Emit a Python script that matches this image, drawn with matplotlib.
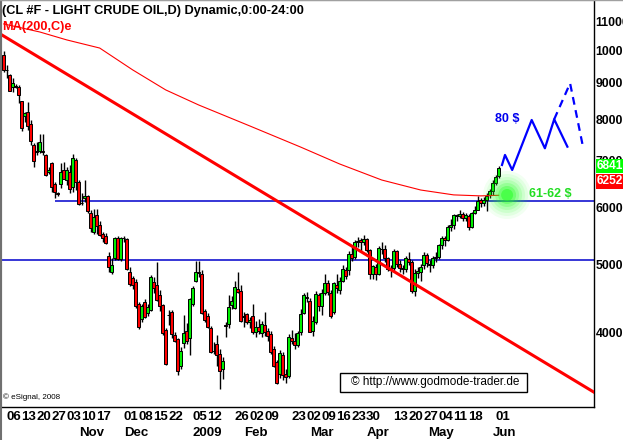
import numpy as np
import pandas as pd
import matplotlib
matplotlib.use("Agg")
import matplotlib.pyplot as plt
from matplotlib.patches import Rectangle
from matplotlib.lines import Line2D
from matplotlib.ticker import NullLocator

plt.rcParams['font.family'] = ['Liberation Sans', 'DejaVu Sans']

# trading days shown on the chart
holidays = ["2008-11-27", "2008-12-25", "2009-01-01", "2009-01-19",
            "2009-02-16", "2009-04-10", "2009-05-25"]
dates = pd.bdate_range("2008-10-02", "2009-06-01").drop(pd.to_datetime(holidays))

opens = [9850, 9400, 9240, 8890, 8920, 8890, 8490, 8090, 8190, 7880,
         7360, 7210, 7210, 7220, 7120, 6740, 6940, 6480, 6290, 6480,
         6790, 6570, 6740, 6420, 7010, 6530, 6100, 6200, 6240, 5900,
         5550, 5870, 5680, 5510, 5480, 5130, 4870, 5100, 5450, 5080,
         5440, 5430, 4880, 4780, 4720, 4390, 4190, 4420, 4270, 4310,
         4720, 4680, 4520, 4380, 4040, 4240, 4280, 3970, 3920, 3590,
         3870, 4020, 3930, 4400, 4730, 4880, 4850, 4290, 4220, 4070,
         3770, 3860, 3740, 3560, 4100, 4120, 4380, 4340, 4620, 4580,
         4230, 4250, 4150, 4230, 4010, 4080, 4000, 4110, 4020, 3990,
         3800, 3640, 3500, 3720, 3500, 3480, 3930, 3900, 3850, 4010,
         4270, 4500, 4440, 4030, 4150, 4520, 4360, 4550, 4700, 4560,
         4280, 4680, 4600, 4740, 4900, 4900, 5170, 5110, 5380, 5400,
         5380, 5430, 5240, 4840, 4960, 4840, 5260, 5250, 5100, 4910,
         4940, 5220, 5000, 4940, 4930, 5090, 5030, 4590, 4860, 4870,
         4980, 5150, 5000, 4990, 5100, 5110, 5320, 5440, 5410, 5640,
         5670, 5860, 5850, 5890, 5800, 5850, 5640, 5900, 5970, 6150,
         6100, 6160, 6250, 6340, 6510, 6650]
highs = [9990, 9540, 9270, 9150, 8960, 8940, 8500, 8190, 8460, 7980,
         7410, 7430, 7620, 7620, 7150, 6850, 6970, 6530, 6320, 6940,
         6970, 6850, 6900, 7150, 7060, 6570, 6300, 6570, 6260, 5960,
         5980, 5980, 5750, 5550, 5530, 5200, 5100, 5460, 5480, 5460,
         5480, 5440, 4960, 4810, 4760, 4420, 4400, 4460, 4400, 4820,
         4790, 5030, 4600, 4400, 4060, 4310, 4310, 4010, 3930, 3820,
         4240, 4130, 4480, 4660, 5050, 5050, 4900, 4320, 4270, 4090,
         3880, 3980, 3800, 3700, 4150, 4520, 4510, 4740, 4870, 4680,
         4280, 4270, 4210, 4400, 4160, 4180, 4160, 4280, 4060, 4020,
         3840, 3670, 3780, 3760, 3560, 3990, 4040, 4000, 4020, 4330,
         4560, 4570, 4480, 4230, 4580, 4560, 4610, 4840, 4750, 4600,
         4720, 4850, 4790, 4980, 4960, 5220, 5300, 5400, 5460, 5450,
         5500, 5450, 5250, 4990, 5000, 5300, 5370, 5320, 5120, 4990,
         5260, 5230, 5060, 4990, 5140, 5200, 5060, 4920, 4960, 5000,
         5200, 5180, 5070, 5130, 5200, 5340, 5480, 5480, 5670, 5790,
         5890, 5880, 5960, 5920, 5900, 5880, 5920, 6030, 6230, 6200,
         6220, 6290, 6380, 6560, 6680, 6880]
lows = [9340, 9150, 8770, 8740, 8850, 8430, 7700, 7930, 7730, 7360,
        6850, 7120, 7170, 7120, 6660, 6700, 6320, 6200, 6240, 6400,
        6590, 6470, 6300, 6320, 6360, 6060, 6050, 6120, 5900, 5550,
        5510, 5510, 5470, 5380, 5330, 4870, 4850, 5070, 5070, 5050,
        5380, 4900, 4660, 4620, 4340, 4050, 4150, 4200, 4230, 4290,
        4560, 4440, 4300, 3980, 3600, 4100, 3930, 3880, 3490, 3560,
        3810, 3860, 3720, 4370, 4720, 4800, 4250, 4150, 4060, 3750,
        3740, 3590, 3340, 3440, 3950, 4060, 4330, 4320, 4560, 4140,
        4080, 4120, 4060, 3990, 3950, 3990, 3950, 3960, 3900, 3740,
        3580, 3390, 3460, 3430, 3400, 3460, 3860, 3800, 3820, 3980,
        4250, 4420, 4010, 3960, 4120, 4300, 4240, 4520, 4530, 4200,
        4250, 4560, 4540, 4720, 4760, 4830, 5050, 5090, 5280, 5220,
        5320, 5200, 4760, 4760, 4750, 4830, 5170, 5030, 4890, 4800,
        4890, 4950, 4870, 4850, 4880, 4980, 4560, 4510, 4780, 4740,
        4920, 4950, 4880, 4940, 5030, 5080, 5250, 5310, 5390, 5560,
        5600, 5760, 5810, 5750, 5760, 5580, 5620, 5880, 5960, 6020,
        6040, 5940, 6200, 6260, 6460, 6620]
closes = [9397, 9388, 8781, 9006, 8895, 8659, 7770, 8160, 7830, 7454,
          6985, 7200, 7425, 7200, 6675, 6784, 6415, 6322, 6273, 6750,
          6596, 6781, 6391, 7053, 6530, 6077, 6104, 6241, 5933, 5616,
          5824, 5660, 5495, 5439, 5362, 4962, 4993, 5450, 5077, 5444,
          5443, 4928, 4696, 4679, 4367, 4081, 4371, 4207, 4352, 4798,
          4628, 4451, 4360, 4006, 3622, 4236, 3991, 3898, 3535, 3771,
          4002, 3903, 4460, 4634, 4881, 4858, 4263, 4170, 4083, 3759,
          3778, 3728, 3540, 3651, 4090, 4355, 4430, 4647, 4573, 4158,
          4216, 4144, 4168, 4008, 4078, 4032, 4117, 4017, 3956, 3755,
          3594, 3398, 3751, 3493, 3462, 3948, 3894, 3844, 3996, 4250,
          4522, 4476, 4015, 4165, 4538, 4361, 4552, 4707, 4571, 4233,
          4703, 4625, 4735, 4916, 4814, 5161, 5106, 5380, 5398, 5377,
          5434, 5238, 4841, 4966, 4839, 5264, 5251, 5105, 4915, 4938,
          5224, 5005, 4941, 4925, 5098, 5033, 4588, 4855, 4886, 4962,
          5155, 5014, 4992, 5097, 5112, 5320, 5447, 5409, 5634, 5671,
          5863, 5850, 5885, 5802, 5857, 5634, 5903, 5965, 6145, 6105,
          6167, 6245, 6345, 6508, 6631, 6841]

# MA(200) (bar index, value)
ma_idx = [0, 12, 21, 32, 43, 54, 65, 82, 99, 112, 126, 139, 150, 159, 165]
ma_val = [10900, 10620, 10350, 10080, 9390, 8800, 8380, 7830, 7310, 6920,
          6570, 6360, 6260, 6240, 6252]

# trend line and horizontal levels
trend_x = [-1.3, 196.8]
trend_y = [10560, 3300]
level_hi = 6138
level_hi_start = 17
level_lo = 5069

# projection drawn on the chart (bar index, price)
proj_x = [166.1, 167.1, 169.5, 176.0, 180.4, 183.5, 187.9]
proj_y = [6898, 7126, 6787, 7982, 7282, 8000, 7320]
proj2_x = [183.5, 188.8, 193.2]
proj2_y = [8000, 8990, 7282]

ytick_vals = [4000, 5000, 6000, 7000, 8000, 9000, 10000, 11000]
day_labels = ["2008-10-06", "2008-10-13", "2008-10-20", "2008-10-27", "2008-11-03",
              "2008-11-10", "2008-11-17", "2008-12-01", "2008-12-08", "2008-12-15",
              "2008-12-22", "2009-01-05", "2009-01-12", "2009-01-26", "2009-02-02",
              "2009-02-09", "2009-02-23", "2009-03-02", "2009-03-09", "2009-03-16",
              "2009-03-23", "2009-03-30", "2009-04-13", "2009-04-20", "2009-04-27",
              "2009-05-04", "2009-05-11", "2009-05-18", "2009-06-01"]
month_labels = ["Nov", "Dec", "2009", "Feb", "Mar", "Apr", "May", "Jun"]
month_pos = [29.4, 44.1, 67.8, 84.1, 106.1, 124.8, 145.8, 167.1]

W, H = 623, 440
fig = plt.figure(figsize=(W / 100, H / 100), dpi=100)
ax = fig.add_axes([1 / W, 1 - 407 / H, 593 / W, 407 / H])
ax.set_yscale('log')
ax.set_ylim(3146, 11780)
ax.set_xlim(-0.9, 196.77)

x = np.arange(len(closes))
o = np.array(opens)
c = np.array(closes)
hi = np.array(highs)
lo = np.array(lows)

# levels
ax.hlines(level_hi, level_hi_start, 200, color='#0000cc', lw=1.1, zorder=1)
ax.hlines(level_lo, -2, 200, color='#0000cc', lw=1.1, zorder=1)

# candles
colors = []
for i in range(len(c)):
    if abs(c[i] - o[i]) / o[i] < 0.002:
        colors.append('black')
    elif c[i] > o[i]:
        colors.append('#00ee00')
    else:
        colors.append('#ff0000')
ax.vlines(x, lo, hi, color='black', lw=1.0, zorder=2)
bot = np.minimum(o, c)
top = np.maximum(o, c)
ax.bar(x, top - bot, bottom=bot, width=0.8, color=colors, edgecolor='black',
       linewidth=0.7, zorder=3)

# MA and trend line
ax.plot(ma_idx, ma_val, color='#ff0000', lw=0.8, zorder=4)
ax.plot(trend_x, trend_y, color='#ff0000', lw=2.2, zorder=4)

# green glow at the support
for r, a in [(24, 0.06), (21, 0.08), (18, 0.1), (15, 0.14), (12, 0.2), (9, 0.3), (6, 0.5)]:
    ax.scatter([167.8], [6258], s=(1.44 * r) ** 2, color='#22ff22', alpha=a,
               edgecolors='none', zorder=5)

# projection
ax.plot(proj_x, proj_y, color='#0000ff', lw=1.6, zorder=6)
ax.plot(proj2_x, proj2_y, color='#0000ff', lw=1.6, zorder=6, dashes=(3.5, 2.5))

ax.text(167.8, 8008, "80 $", color='#0000ee', fontsize=9, fontweight='bold',
        ha='center', va='center', zorder=7)
ax.text(182.1, 6280, "61-62 $", color='#22dd22', fontsize=9, fontweight='bold',
        ha='center', va='center', zorder=7)

# right axis
ax.yaxis.tick_right()
ax.set_yticks(ytick_vals)
ax.set_yticklabels([str(v) for v in ytick_vals])
ax.yaxis.set_minor_locator(NullLocator())
ax.tick_params(axis='y', length=0, pad=1.2, labelsize=8.8)
for t in ax.get_yticklabels():
    t.set_fontweight('bold')
ax.set_xticks([])

for s in ['right', 'bottom']:
    ax.spines[s].set_color('black')
    ax.spines[s].set_linewidth(1)
ax.spines['left'].set_color('#707070')
ax.spines['left'].set_linewidth(1.5)
ax.spines['top'].set_color('#a0a0a0')

# date labels
pos = [dates.get_loc(pd.Timestamp(d)) + 1.3 for d in day_labels]
for p, d in zip(pos, day_labels):
    ax.text(p, -0.025, d[-2:], transform=ax.get_xaxis_transform(), ha='center',
            va='center', fontsize=9.5, fontweight='bold')
for p, m in zip(month_pos, month_labels):
    ax.text(p, -0.064, m, transform=ax.get_xaxis_transform(), ha='center',
            va='center', fontsize=9.5, fontweight='bold')

# header texts
fig.text(2 / W, 1 - 11 / H, "(CL #F - LIGHT CRUDE OIL,D) Dynamic,0:00-24:00",
         ha='left', va='center', fontsize=9.2, fontweight='bold')
fig.text(2 / W, 1 - 27 / H, "MA(200,C)e", color='#ff0000',
         ha='left', va='center', fontsize=9.2, fontweight='bold')
fig.text(3 / W, 1 - 397 / H, "© eSignal, 2008", ha='left', va='center', fontsize=5.8)

# godmode box
fig.patches.append(Rectangle((340 / W, 1 - 392 / H), 187 / W, 19 / H, transform=fig.transFigure,
                             facecolor='white', edgecolor='black', lw=1, zorder=8))
fig.text(435 / W, 1 - 382.5 / H, "© http://www.godmode-trader.de", ha='center', va='center',
         fontsize=8.5, zorder=9)

# price tags
fig.patches.append(Rectangle((596 / W, 1 - 173 / H), 27 / W, 14 / H, transform=fig.transFigure,
                             facecolor='#00ff00', edgecolor='none', zorder=8))
fig.text(596.5 / W, 1 - 166 / H, str(closes[-1]), color='white', ha='left', va='center',
         fontsize=8.6, fontweight='bold', zorder=9)
fig.patches.append(Rectangle((596 / W, 1 - 189 / H), 27 / W, 15 / H, transform=fig.transFigure,
                             facecolor='#ff0000', edgecolor='none', zorder=8))
fig.text(596.5 / W, 1 - 181.5 / H, str(ma_val[-1]), color='white', ha='left', va='center',
         fontsize=8.6, fontweight='bold', zorder=9)

# outer frame left/top
fig.add_artist(Line2D([0.8 / W, 0.8 / W], [0, 1], color='#707070', lw=1.5))
fig.add_artist(Line2D([0, 1], [1 - 0.5 / H, 1 - 0.5 / H], color='#a0a0a0', lw=1))

fig.savefig("out.png", dpi=100)
